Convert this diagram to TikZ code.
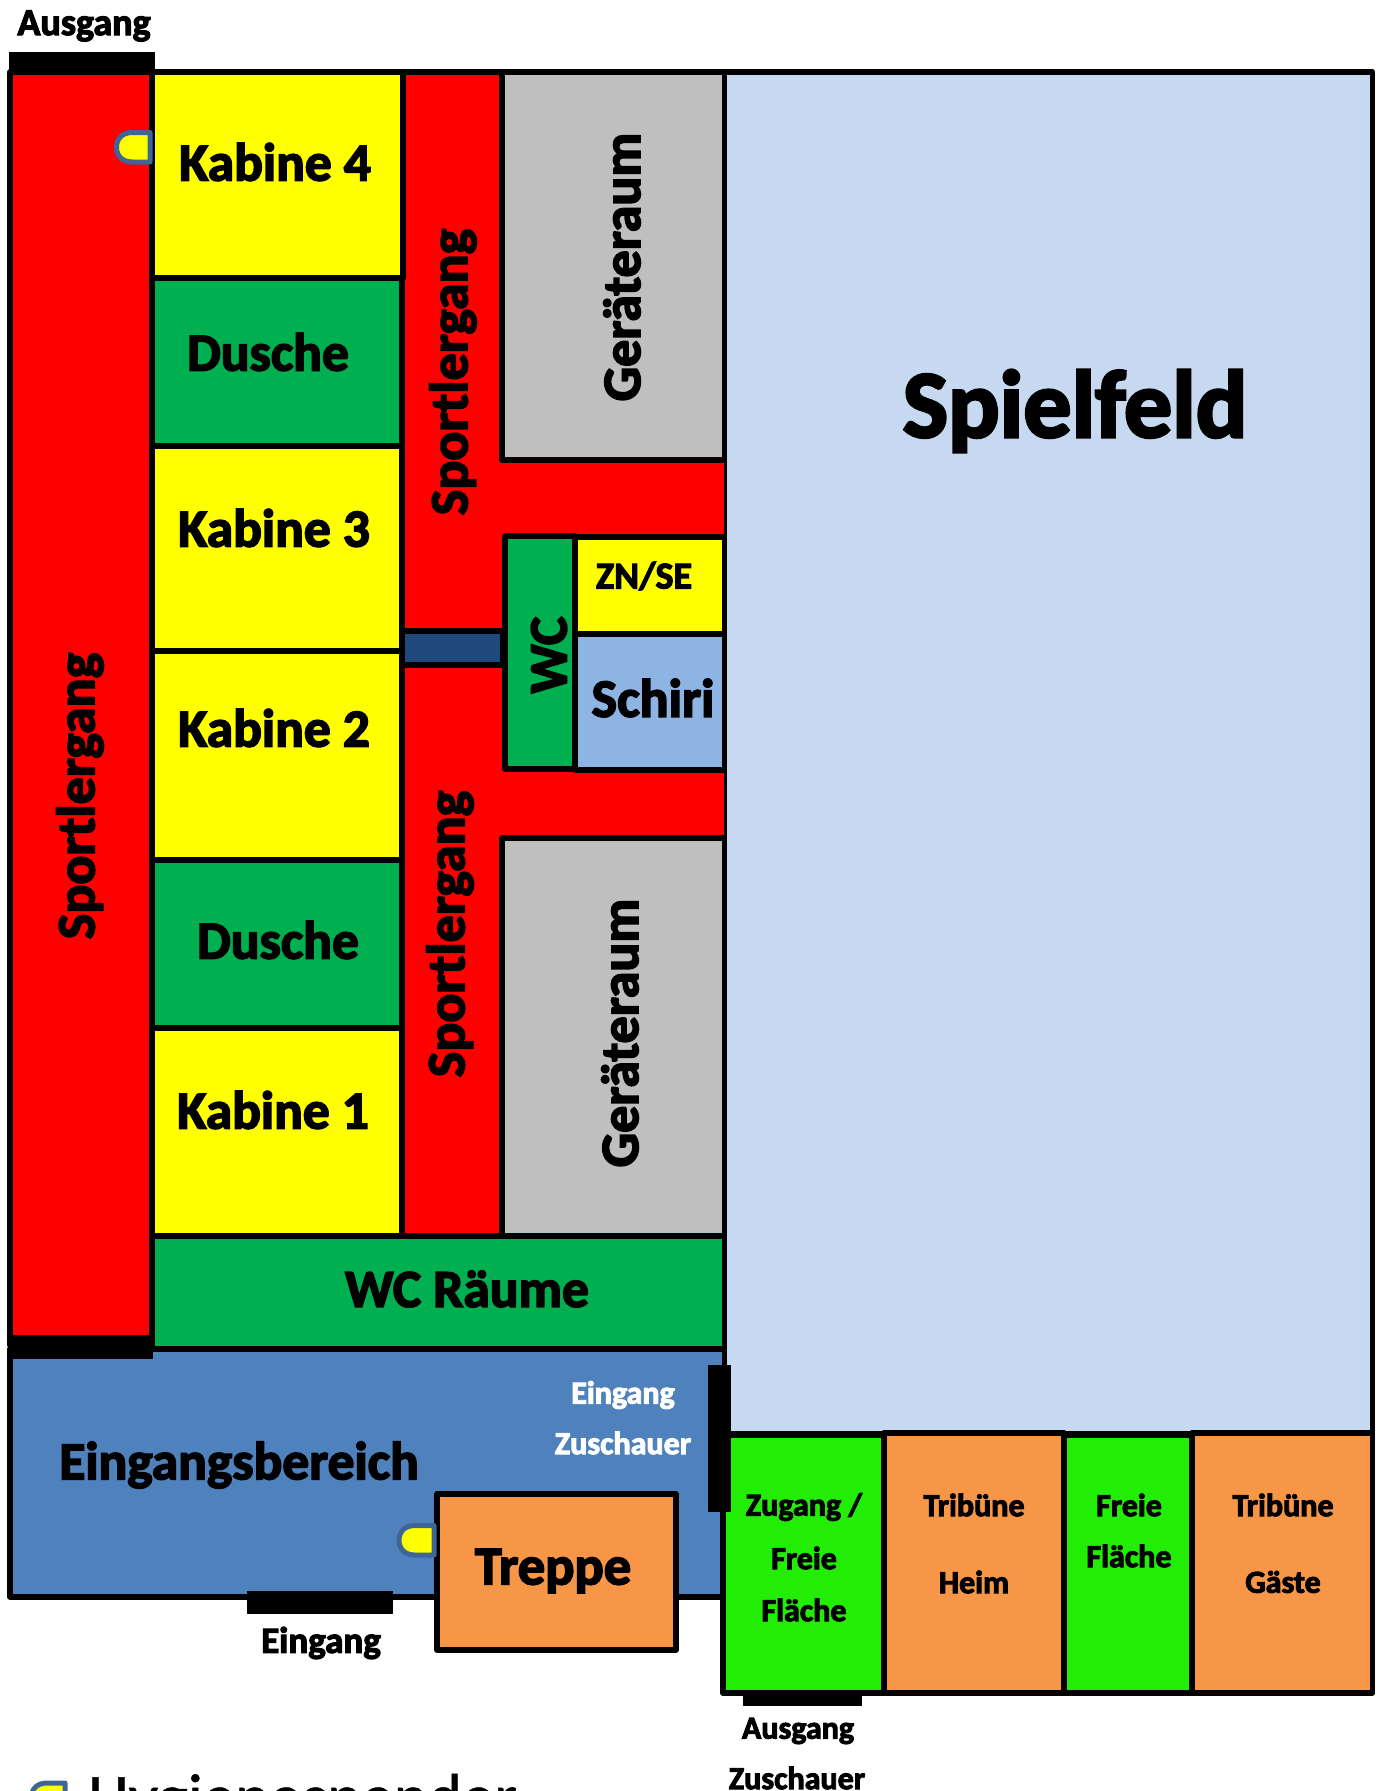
\documentclass[tikz,border=0pt]{standalone}
\usepackage{fontspec}
\setmainfont{Carlito}[BoldFeatures={FakeBold=3}]
\newfontfamily\legendfont{Carlito}[FakeBold=0.8]
\definecolor{cRed}{HTML}{FF0000}
\definecolor{cYel}{HTML}{FFFF00}
\definecolor{cGrn}{HTML}{00B050}
\definecolor{cBlu}{HTML}{4F81BD}
\definecolor{cLt}{HTML}{C6D9F1}
\definecolor{cSch}{HTML}{8EB4E3}
\definecolor{cGry}{HTML}{BFBFBF}
\definecolor{cOra}{HTML}{F79646}
\definecolor{cLim}{HTML}{22EE05}
\definecolor{cNav}{HTML}{1F497D}
\definecolor{cDis}{HTML}{3F6596}
\tikzset{
  room/.style={draw=black,line width=5.5pt,line join=round},
  bar/.style={fill=black,draw=black,line width=1pt,line join=round},
  lbl/.style={inner sep=0pt,text=black},
  disp/.style={draw=cDis,fill=cYel,line width=5pt,line join=round}
}
\newcommand{\roomrect}[5]{\filldraw[room,fill=#5] (#1,#2) rectangle (#3,#4);}
\newcommand{\lab}[6][black]{\node[lbl,text=#1,rotate=#5,anchor=center] at (#2,#3) {\fontsize{#4}{#4}\selectfont\bfseries #6};}
\newcommand{\dispenser}[4]{\filldraw[disp] (#3,#2) -- (#1+16,#2) .. controls (#1+5,#2) and (#1,#2+7) .. (#1,{(#2+#4)/2}) .. controls (#1,#4-7) and (#1+5,#4) .. (#1+16,#4) -- (#3,#4) -- cycle;}
\begin{document}
\begin{tikzpicture}[x=1pt,y=-1pt]
\useasboundingbox (0,0) rectangle (1380,1791);
\clip (0,0) rectangle (1380,1791);
% spielfeld
\roomrect{724.5}{72}{1372.5}{1434}{cLt}
% left corridor
\roomrect{10}{72}{152}{1345}{cRed}
% middle corridor
\fill[cRed] (402,72) rectangle (724,1235);
\draw[black,line width=5.5pt] (402,72) -- (502,72);
% rooms
\roomrect{152}{72}{403}{278}{cYel}
\roomrect{152}{278}{402}{446}{cGrn}
\roomrect{152}{446}{402}{651}{cYel}
\roomrect{152}{651}{402}{860}{cYel}
\roomrect{152}{860}{402}{1028}{cGrn}
\roomrect{152}{1028}{402}{1236}{cYel}
\roomrect{502}{72}{724.5}{460}{cGry}
\roomrect{502}{838}{724.5}{1236}{cGry}
\roomrect{505}{536}{575}{769}{cGrn}
\roomrect{575}{537}{724.5}{634}{cYel}
\roomrect{575}{634}{724.5}{770}{cSch}
\roomrect{402}{631}{503}{665}{cNav}
\roomrect{152}{1236}{724.5}{1349}{cGrn}
\roomrect{10}{1349}{724.5}{1597}{cBlu}
\roomrect{437}{1494}{676}{1650}{cOra}
\roomrect{723}{1435}{884}{1693}{cLim}
\roomrect{884}{1433}{1064}{1693}{cOra}
\roomrect{1064}{1435}{1192}{1693}{cLim}
\roomrect{1192}{1433}{1372.5}{1693}{cOra}
% black bars
\filldraw[bar] (9,52) rectangle (154,74);
\filldraw[bar] (8,1335) rectangle (152,1358);
\filldraw[bar] (708,1365) rectangle (730,1511);
\filldraw[bar] (247,1591) rectangle (392,1613);
\filldraw[bar] (743,1693) rectangle (861,1705);
% dispensers
\dispenser{116.5}{132.5}{150}{162}
\dispenser{399}{1525.5}{434}{1555}
\dispenser{31}{1783}{65}{1815}
% labels
\lab{84}{26}{38}{0}{Ausgang}
\lab{80}{796}{54}{90}{Sportlergang}
\lab{275}{162}{53.5}{0}{Kabine 4}
\lab{268}{352}{53.5}{0}{Dusche}
\lab{274}{528}{53.5}{0}{Kabine 3}
\lab{274}{728}{53.5}{0}{Kabine 2}
\lab{278}{940}{53.5}{0}{Dusche}
\lab{273}{1110}{53.5}{0}{Kabine 1}
\lab{453}{372}{54}{90}{Sportlergang}
\lab{450}{934}{54}{90}{Sportlergang}
\lab{622}{267}{54}{90}{Geräteraum}
\lab{620}{1033}{54}{90}{Geräteraum}
\lab{549}{655}{54}{90}{WC}
\lab{644}{576}{38}{0}{ZN/SE}
\lab{653}{698}{54}{0}{Schiri}
\lab{467}{1289}{53.5}{0}{WC Räume}
\lab{239}{1465}{53.5}{0}{Eingangsbereich}
\lab[white]{623}{1395}{32}{0}{Eingang}
\lab[white]{623}{1443}{32}{0}{Zuschauer}
\lab{553}{1571}{54.5}{0}{Treppe}
\lab{321}{1643}{37}{0}{Eingang}
\lab{798}{1731}{32}{0}{Ausgang}
\lab{797}{1778}{32}{0}{Zuschauer}
\lab{804}{1507}{32}{0}{Zugang /}
\lab{804}{1558}{32}{0}{Freie}
\lab{804}{1610}{32}{0}{Fläche}
\lab{974}{1505}{32}{0}{Tribüne}
\lab{974}{1582}{32}{0}{Heim}
\lab{1129}{1505}{32}{0}{Freie}
\lab{1129}{1556}{32}{0}{Fläche}
\lab{1283}{1505}{32}{0}{Tribüne}
\lab{1283}{1582}{32}{0}{Gäste}
\lab{1075}{411}{96}{0}{Spielfeld}
\node[inner sep=0pt,anchor=base west] at (88,1819) {\fontsize{65}{65}\selectfont\legendfont Hygienespender};
\end{tikzpicture}
\end{document}
